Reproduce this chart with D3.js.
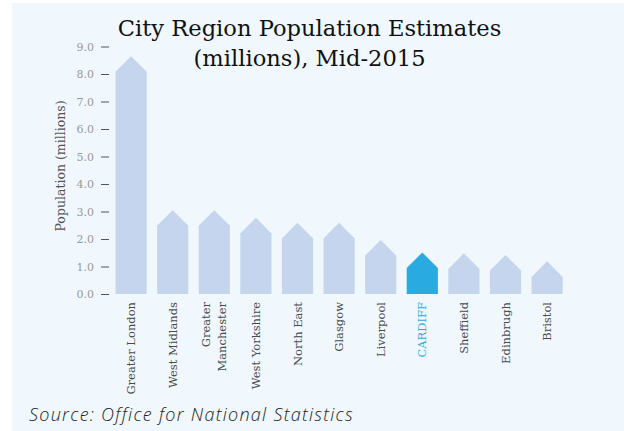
<!DOCTYPE html>
<html><head><meta charset="utf-8">
<script src="https://cdn.jsdelivr.net/npm/d3@7"></script>
<style>
html,body{margin:0;padding:0;background:#fff;}
svg{display:block;}
</style></head>
<body>
<svg id="chart" width="624" height="431"></svg>
<script>
const categories = ["Greater London","West Midlands","Greater Manchester","West Yorkshire","North East","Glasgow","Liverpool","CARDIFF","Sheffield","Edinbrugh","Bristol"];
const values = [8.65, 3.05, 3.05, 2.77, 2.59, 2.59, 1.96, 1.51, 1.48, 1.42, 1.19];
const highlight = ["CARDIFF"];
const yTicks = [0,1,2,3,4,5,6,7,8,9];
const titleLines = ["City Region Population Estimates","(millions), Mid-2015"];
const yLabel = "Population (millions)";
const source = "Source: Office for National Statistics";

const svg = d3.select("#chart");
svg.append("rect").attr("x",12).attr("y",3).attr("width",612).attr("height",428).attr("fill","#f0f8fe");

const y = d3.scaleLinear().domain([0,9]).range([294,46.5]);
const x = d3.scaleBand().domain(categories).range([105.1,573.1]).paddingInner(0.25).paddingOuter(0.25);

const serif = "'DejaVu Serif', serif";

// y axis
const yAxis = d3.axisLeft(y).tickValues(yTicks).tickFormat(d3.format(".1f")).tickSize(8).tickPadding(7);
const gy = svg.append("g").attr("transform","translate(109,0)").call(yAxis);
gy.select(".domain").remove();
gy.selectAll(".tick line").attr("stroke","#555").attr("stroke-width",1);
gy.selectAll(".tick text").attr("fill","#999").style("font-family",serif).style("font-size","11px");

// bars (house shapes)
const bw = x.bandwidth();
svg.append("g").selectAll("path").data(categories).join("path")
  .attr("d",(c,i)=>{
    const x0 = x(c), x1 = x0+bw, top = y(values[i]), sh = top + bw/2, b = y(0);
    return `M${x0},${b}L${x0},${sh}L${x0+bw/2},${top}L${x1},${sh}L${x1},${b}Z`;
  })
  .attr("fill",c=>highlight.includes(c)?"#29abe2":"#c5d5ee");

// x labels
const gx = svg.append("g");
categories.forEach(c=>{
  const cx = x(c)+bw/2;
  const hl = highlight.includes(c);
  const words = c==="Greater Manchester" ? ["Greater","Manchester"] : [c];
  const t = gx.append("text")
    .attr("transform",`translate(${cx},302) rotate(-90)`)
    .attr("text-anchor","end")
    .style("font-family",serif).style("font-size","11.5px")
    .attr("fill",hl?"#29abe2":"#4a4a4a");
  const n = words.length;
  words.forEach((w,k)=>{
    t.append("tspan").attr("x",0).attr("y",(k-(n-1)/2)*16).attr("dy","0.35em").text(w);
  });
});

// y label
svg.append("text").attr("transform","translate(65,166) rotate(-90)")
  .attr("text-anchor","middle").style("font-family",serif).style("font-size","12.5px")
  .attr("fill","#555").text(yLabel);

// title
svg.append("g").selectAll("text").data(titleLines).join("text")
  .attr("x",309.5).attr("y",(d,i)=>36+i*30).attr("text-anchor","middle")
  .style("font-family",serif).style("font-size","22.6px").attr("fill","#111").text(d=>d);

// source
svg.append("text").attr("x",29).attr("y",421)
  .style("font-family","'Open Sans', sans-serif").style("font-style","italic").style("font-weight","300")
  .style("font-size","18px").style("letter-spacing","1.27px")
  .attr("fill","#222").text(source);
</script>
</body></html>
